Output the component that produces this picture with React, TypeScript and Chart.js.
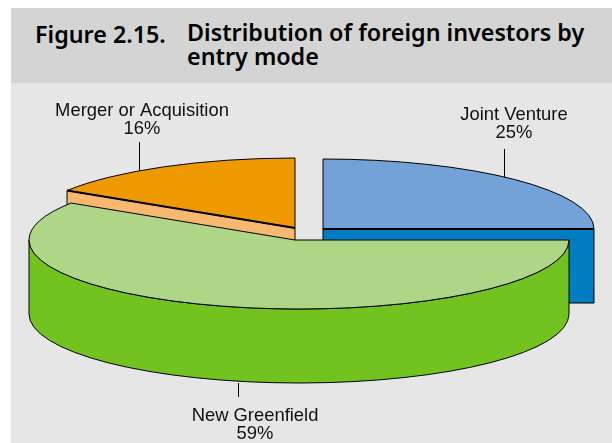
import React, { useEffect, useRef } from "react";
import { Chart, registerables } from "chart.js";

Chart.register(...registerables);

const categories = ["Joint Venture", "New Greenfield", "Merger or Acquisition"];
const shares = [25, 59, 16];
const topColors = ["#72a2d6", "#afd686", "#ef9900"];
const sideColors = ["#007cc3", "#72c220", "#f6b96f"];

const DEPTH = 74;
// Position of each exploded wedge on the page: centre and ellipse radii.
const wedgeGeometry = [
  { cx: 323, cy: 229, rx: 271, ry: 70, apexX: 323 },
  { cx: 299, cy: 240, rx: 270, ry: 69, apexX: 295 },
  { cx: 295, cy: 228, rx: 270, ry: 70, apexX: 295 },
];
// Draw order: back to front.
const drawOrder = [0, 2, 1];
const leaders = [
  { x: 504, y1: 149, y2: 177, labelX: 514, labelY: 115 },
  { x: 238, y1: 383, y2: 397, labelX: 255, labelY: 416 },
  { x: 139, y1: 142, y2: 171, labelX: 142, labelY: 111 },
];

const pie3d = {
  id: "pie3d",
  beforeDatasetsDraw(chart: any) {
    const ctx = chart.ctx;
    const arcs = chart.getDatasetMeta(0).data;
    ctx.save();
    ctx.strokeStyle = "#000";
    ctx.lineJoin = "round";

    for (const i of drawOrder) {
      const a = arcs[i];
      const g = wedgeGeometry[i];
      const s = a.startAngle;
      const e = a.endAngle;
      ctx.fillStyle = sideColors[i];
      ctx.lineWidth = 1;

      // flat cut faces that turn towards the viewer
      const faces = [
        { ang: s, normal: s - Math.PI / 2 },
        { ang: e, normal: e + Math.PI / 2 },
      ];
      const creases: number[][] = [];
      for (const f of faces) {
        if (Math.sin(f.normal) > 0.01) {
          const rimX = g.cx + g.rx * Math.cos(f.ang);
          const rimY = g.cy + g.ry * Math.sin(f.ang);
          ctx.beginPath();
          ctx.moveTo(g.apexX, g.cy);
          ctx.lineTo(rimX, rimY);
          ctx.lineTo(rimX, rimY + DEPTH);
          ctx.lineTo(g.apexX, g.cy + DEPTH);
          ctx.closePath();
          ctx.fill();
          ctx.stroke();
          creases.push([rimX, rimY]);
        }
      }

      // outer rim where it faces the viewer
      const from = Math.max(s, 0);
      const to = Math.min(e, Math.PI);
      if (to > from) {
        ctx.beginPath();
        ctx.ellipse(g.cx, g.cy, g.rx, g.ry, 0, from, to);
        ctx.ellipse(g.cx, g.cy + DEPTH, g.rx, g.ry, 0, to, from, true);
        ctx.closePath();
        ctx.fill();
        ctx.stroke();
      }

      // top face
      ctx.fillStyle = topColors[i];
      ctx.beginPath();
      ctx.moveTo(g.apexX, g.cy);
      ctx.ellipse(g.cx, g.cy, g.rx, g.ry, 0, s, e);
      ctx.closePath();
      ctx.fill();
      ctx.lineWidth = 1;
      ctx.stroke();

      // heavier crease between a top face and its cut face
      ctx.lineWidth = 1.8;
      for (const [x, y] of creases) {
        ctx.beginPath();
        ctx.moveTo(g.apexX, g.cy);
        ctx.lineTo(x, y);
        ctx.stroke();
      }
    }

    // leader lines and labels
    ctx.lineWidth = 1;
    ctx.fillStyle = "#111";
    ctx.font = '18.4px "Liberation Sans", Arial, sans-serif';
    ctx.textAlign = "center";
    ctx.textBaseline = "middle";
    categories.forEach((name, i) => {
      const l = leaders[i];
      ctx.beginPath();
      ctx.moveTo(l.x + 0.5, l.y1);
      ctx.lineTo(l.x + 0.5, l.y2);
      ctx.stroke();
      ctx.fillText(name, l.labelX, l.labelY);
      ctx.fillText(`${shares[i]}%`, l.labelX, l.labelY + 18);
    });
    ctx.restore();
    return false; // the wedges above replace the flat pie
  },
};

export default function App() {
  const ref = useRef<HTMLCanvasElement>(null);
  useEffect(() => {
    document.body.style.margin = "0";
    const chart = new Chart(ref.current!, {
      type: "pie",
      data: {
        labels: categories,
        datasets: [{ data: shares, backgroundColor: topColors, borderWidth: 0 }],
      },
      options: {
        animation: false,
        responsive: false,
        plugins: { legend: { display: false }, tooltip: { enabled: false } },
      },
      plugins: [pie3d],
    });
    return () => chart.destroy();
  }, []);

  const titleFont: React.CSSProperties = {
    position: "absolute",
    fontFamily: '"Noto Sans", sans-serif',
    fontWeight: 600,
    fontSize: 23.3,
    lineHeight: "24px",
    color: "#000",
    whiteSpace: "nowrap",
  };

  return (
    <div style={{ position: "relative", width: 612, height: 443, overflow: "hidden", background: "#fff" }}>
      <div style={{ position: "absolute", left: 11, top: 8, width: 601, height: 75, background: "#d4d4d4" }} />
      <div style={{ position: "absolute", left: 11, top: 83, width: 601, height: 360, background: "#e6e6e6" }} />
      <div style={{ ...titleFont, left: 35, top: 22 }}>Figure 2.15.</div>
      <div style={{ ...titleFont, left: 187, top: 20 }}>
        Distribution of foreign investors by
        <br />
        entry mode
      </div>
      <canvas ref={ref} width={612} height={443} style={{ position: "absolute", left: 0, top: 0 }} />
    </div>
  );
}
